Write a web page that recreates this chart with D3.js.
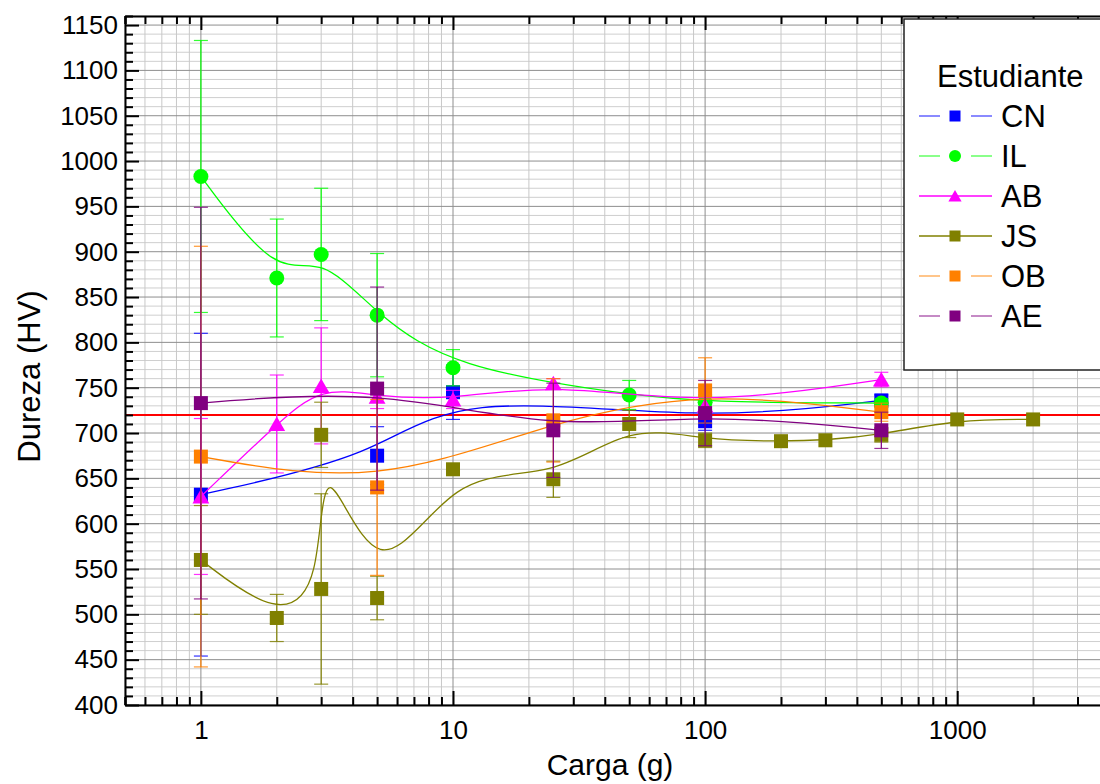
<!DOCTYPE html>
<html><head><meta charset="utf-8">
<script src="https://cdn.jsdelivr.net/npm/d3@7"></script>
<style>
body{margin:0;background:#fff}
svg{display:block}
text{font-family:Arial,"Liberation Sans",sans-serif;fill:#000}
</style>
</head><body>
<svg id="c" width="1100" height="784"></svg>
<script>
// ---- data ----
const seriesNames = ["CN","IL","AB","JS","OB","AE"];
const seriesColors = ["#0000ff","#00ff00","#ff00ff","#808000","#ff8000","#800080"];
const seriesSymbols = ["square","circle","triangle","square","square","square"];

const xCN = [1,5,10,100,500];
const yCN = [632,675,745,713,736];
const eCN = [178,32,30,10,6];

const xIL = [1,2,3,5,10,50,100,500];
const yIL = [983,871,897,830,772,742,734,733];
const eIL = [150,65,73,68,20,16,8,5];

const xAB = [1,2,3,5,10,25,100,500];
const yAB = [630,710,752,740,737,755,730,759];
const eAB = [86,54,64,13,10,5,10,8];

const xJS = [1,2,3,3,5,10,25,50,100,200,300,500,1000,2000];
const yJS = [560,496,528,698,518,660,649,710,692,691,692,698,715,715];
const eJS = [60,26,105,36,24,5,20,15,8,0,0,8,0,0];

const xOB = [1,5,25,100,500];
const yOB = [674,640,714,747,723];
const eOB = [232,97,46,36,10];

const xAE = [1,5,25,100,500];
const yAE = [733,749,703,722,703];
const eAE = [216,112,52,36,20];

const refValue = 720;
const xTickValues = [1,10,100,1000];
const yMajorTicks = d3.range(400,1151,50);
const yMinorTicks = d3.range(400,1161,10).filter(v=>v%50!==0);
const xLabel = "Carga (g)";
const yLabel = "Dureza (HV)";
const legendTitle = "Estudiante";

const seriesX = [xCN,xIL,xAB,xJS,xOB,xAE];
const seriesY = [yCN,yIL,yAB,yJS,yOB,yAE];
const seriesE = [eCN,eIL,eAB,eJS,eOB,eAE];

// ---- layout ----
const L=125, R=1109, T=16, B=705;
const svg = d3.select("#c");
const x = d3.scaleLog().domain([0.5,4000]).range([L,R]);
const y = d3.scaleLinear().domain([400,1160]).range([B,T]);

const xMinor = [];
for (let d=-1; d<=3; d++) for (let k=2;k<=9;k++){ const v=k*Math.pow(10,d); if(v>=0.5&&v<=4000) xMinor.push(v); }
xMinor.push(0.5);

// grid
const grid = svg.append("g");
grid.selectAll(".hm").data(yMinorTicks).join("line")
  .attr("x1",L).attr("x2",R).attr("y1",d=>y(d)).attr("y2",d=>y(d))
  .attr("stroke","#cfcfcf").attr("stroke-width",1);
grid.selectAll(".vm").data(xMinor).join("line")
  .attr("y1",T).attr("y2",B).attr("x1",d=>x(d)).attr("x2",d=>x(d))
  .attr("stroke","#c8c8c8").attr("stroke-width",1);
grid.selectAll(".hM").data(yMajorTicks).join("line")
  .attr("x1",L).attr("x2",R).attr("y1",d=>y(d)).attr("y2",d=>y(d))
  .attr("stroke","#8e8e8e").attr("stroke-width",1);
grid.selectAll(".vM").data(xTickValues).join("line")
  .attr("y1",T).attr("y2",B).attr("x1",d=>x(d)).attr("x2",d=>x(d))
  .attr("stroke","#8e8e8e").attr("stroke-width",1);

// reference line
svg.append("line").attr("x1",L).attr("x2",R).attr("y1",y(refValue)).attr("y2",y(refValue))
  .attr("stroke","#ff0000").attr("stroke-width",2);

// series
const line = d3.line().x(d=>x(d[0])).y(d=>y(d[1])).curve(d3.curveBasis);
function drawSymbol(g, sym, cx, cy, color, s){
  if (sym==="square") {
    g.append("rect").attr("x",cx-s/2).attr("y",cy-s/2).attr("width",s).attr("height",s).attr("fill",color);
  } else if (sym==="circle") {
    g.append("circle").attr("cx",cx).attr("cy",cy).attr("r",s/2+0.5).attr("fill",color);
  } else {
    const h=s, w=s*1.2;
    g.append("path").attr("d",`M${cx},${cy-h/2-0.5}L${cx+w/2},${cy+h/2}L${cx-w/2},${cy+h/2}Z`).attr("fill",color);
  }
}
seriesNames.forEach((name,i)=>{
  const g = svg.append("g");
  const pts = seriesX[i].map((xv,j)=>[xv,seriesY[i][j],seriesE[i][j]]);
  const col = seriesColors[i];
  g.append("path").attr("d",line(pts)).attr("fill","none").attr("stroke",col).attr("stroke-width",1.3);
  pts.filter(p=>p[2]>0).forEach(p=>{
    const cx=x(p[0]), y1=y(p[1]-p[2]), y2=y(p[1]+p[2]);
    g.append("line").attr("x1",cx).attr("x2",cx).attr("y1",y1).attr("y2",y2).attr("stroke",col).attr("stroke-width",1.2);
    [y1,y2].forEach(yy=>g.append("line").attr("x1",cx-7).attr("x2",cx+7).attr("y1",yy).attr("y2",yy).attr("stroke",col).attr("stroke-width",1.2).attr("opacity",0.8));
  });
  pts.forEach(p=>drawSymbol(g, seriesSymbols[i], x(p[0]), y(p[1]), col, 14));
});

// axes
function styleAxis(g){
  g.select(".domain").attr("stroke","#000").attr("stroke-width",2);
  g.selectAll(".tick line").attr("stroke","#000").attr("stroke-width",2);
  g.selectAll("text").attr("font-size",26).attr("font-family","Arial, 'Liberation Sans', sans-serif");
}
const gl = svg.append("g").attr("transform",`translate(${L},0)`)
  .call(d3.axisLeft(y).tickValues(yMajorTicks).tickSize(-14).tickSizeOuter(0).tickPadding(7).tickFormat(d3.format("d")));
styleAxis(gl);
const glm = svg.append("g").attr("transform",`translate(${L},0)`)
  .call(d3.axisLeft(y).tickValues(yMinorTicks).tickSize(-8).tickSizeOuter(0).tickFormat(""));
styleAxis(glm); glm.select(".domain").remove();

const gb = svg.append("g").attr("transform",`translate(0,${B})`)
  .call(d3.axisBottom(x).tickValues(xTickValues).tickSize(-14).tickSizeOuter(0).tickPadding(16).tickFormat(d3.format("d")));
styleAxis(gb);
const gbm = svg.append("g").attr("transform",`translate(0,${B})`)
  .call(d3.axisBottom(x).tickValues(xMinor).tickSize(-8).tickSizeOuter(0).tickFormat(""));
styleAxis(gbm); gbm.select(".domain").remove();

const gt = svg.append("g").attr("transform",`translate(0,${T})`)
  .call(d3.axisTop(x).tickValues(xTickValues).tickSize(-14).tickSizeOuter(0).tickFormat(""));
styleAxis(gt);
const gtm = svg.append("g").attr("transform",`translate(0,${T})`)
  .call(d3.axisTop(x).tickValues(xMinor).tickSize(-8).tickSizeOuter(0).tickFormat(""));
styleAxis(gtm); gtm.select(".domain").remove();

// axis titles
svg.append("text").attr("x",(L+R)/2-7).attr("y",775).attr("text-anchor","middle")
  .attr("font-size",30).text(xLabel);
svg.append("text").attr("transform",`translate(40,${(T+B)/2+16}) rotate(-90)`).attr("text-anchor","middle")
  .attr("font-size",31).text(yLabel);

// legend
const lg = svg.append("g");
lg.append("rect").attr("x",904).attr("y",19).attr("width",260).attr("height",351)
  .attr("fill","#fff").attr("stroke","#222").attr("stroke-width",1.5);
lg.append("text").attr("x",937).attr("y",87).attr("font-size",31).text(legendTitle);
seriesNames.forEach((name,i)=>{
  const cy = 116 + i*40;
  const col = seriesColors[i];
  const sym = seriesSymbols[i];
  if (sym==="triangle" || i===3) {
    lg.append("line").attr("x1",919).attr("x2",992).attr("y1",cy).attr("y2",cy).attr("stroke",col).attr("stroke-width",1.3);
  } else {
    lg.append("line").attr("x1",919).attr("x2",940).attr("y1",cy).attr("y2",cy).attr("stroke",col).attr("stroke-width",1.3).attr("opacity",0.7);
    lg.append("line").attr("x1",971).attr("x2",992).attr("y1",cy).attr("y2",cy).attr("stroke",col).attr("stroke-width",1.3).attr("opacity",0.7);
  }
  drawSymbol(lg, sym, 955, cy, col, 11);
  lg.append("text").attr("x",1001).attr("y",cy+11).attr("font-size",31).text(name);
});
</script>
</body></html>
